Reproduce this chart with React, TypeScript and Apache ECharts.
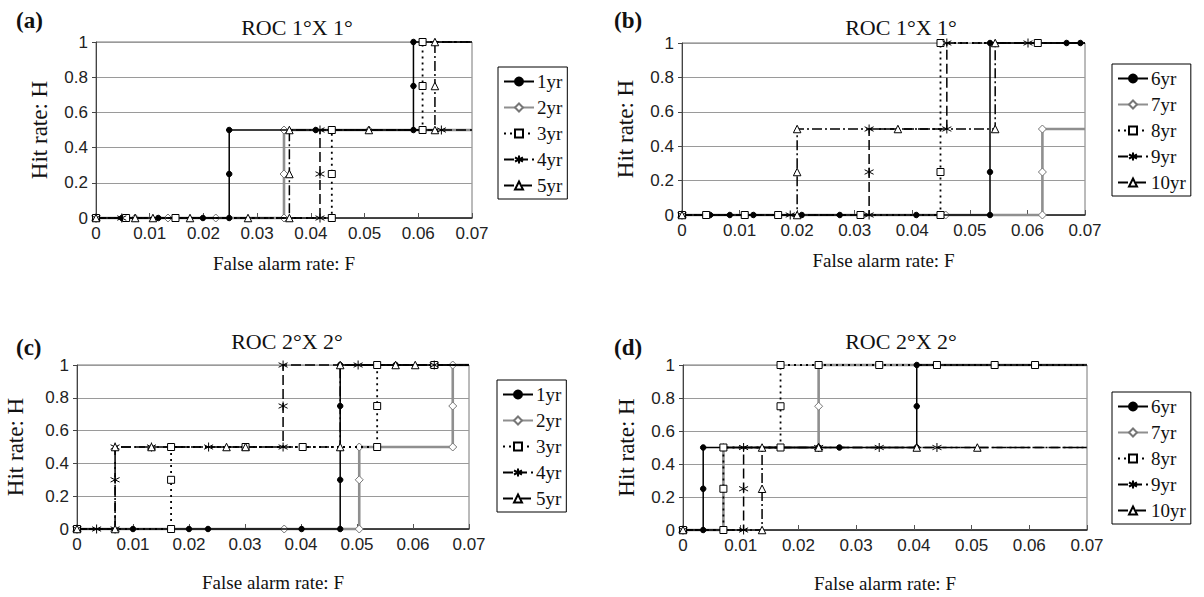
import React, { useEffect, useRef } from "react";
import * as echarts from "echarts";

// ---------- data (False alarm rate F, Hit rate H) ----------
const panelTitles = ["ROC 1°X 1°", "ROC 1°X 1°", "ROC 2°X 2°", "ROC 2°X 2°"];
const panelLetters = ["(a)", "(b)", "(c)", "(d)"];
const namesAC = ["1yr", "2yr", "3yr", "4yr", "5yr"];
const namesBD = ["6yr", "7yr", "8yr", "9yr", "10yr"];
const yTicks = [0, 0.2, 0.4, 0.6, 0.8, 1];
const xTicks = [0, 0.01, 0.02, 0.03, 0.04, 0.05, 0.06, 0.07];

// panel (a)
const a1yr = [[0, 0], [0.0048, 0], [0.0056, 0], [0.0116, 0], [0.0199, 0], [0.0248, 0], [0.0248, 0.25], [0.0248, 0.5], [0.0409, 0.5], [0.0591, 0.5], [0.0591, 0.75], [0.0591, 1], [0.07, 1]];
const a2yr = [[0, 0], [0.0073, 0], [0.0134, 0], [0.0223, 0], [0.035, 0], [0.035, 0.25], [0.035, 0.5], [0.0508, 0.5], [0.07, 0.5]];
const a3yr = [[0, 0], [0.0056, 0], [0.0148, 0], [0.0439, 0], [0.0439, 0.25], [0.0439, 0.5], [0.0608, 0.5], [0.0608, 0.75], [0.0608, 1], [0.07, 1]];
const a4yr = [[0, 0], [0.0048, 0], [0.0417, 0], [0.0417, 0.25], [0.0417, 0.5], [0.0643, 0.5], [0.07, 0.5]];
const a5yr = [[0, 0], [0.0073, 0], [0.0106, 0], [0.0175, 0], [0.0283, 0], [0.036, 0], [0.036, 0.25], [0.036, 0.5], [0.0508, 0.5], [0.0631, 0.5], [0.0631, 0.75], [0.0631, 1], [0.07, 1]];

// panel (b)
const b6yr = [[0, 0], [0.0049, 0], [0.0083, 0], [0.0124, 0], [0.0208, 0], [0.0274, 0], [0.0407, 0], [0.0535, 0], [0.0535, 0.25], [0.0535, 1], [0.0668, 1], [0.0692, 1], [0.07, 1]];
const b7yr = [[0, 0], [0.0458, 0], [0.0626, 0], [0.0626, 0.25], [0.0626, 0.5], [0.07, 0.5]];
const b8yr = [[0, 0], [0.0042, 0], [0.0109, 0], [0.0167, 0], [0.031, 0], [0.0449, 0], [0.0449, 0.25], [0.0449, 1], [0.0618, 1], [0.07, 1]];
const b9yr = [[0, 0], [0.0188, 0], [0.0325, 0], [0.0325, 0.25], [0.0325, 0.5], [0.046, 0.5], [0.046, 1], [0.0601, 1], [0.07, 1]];
const b10yr = [[0, 0], [0.02, 0], [0.02, 0.25], [0.02, 0.5], [0.0375, 0.5], [0.0544, 0.5], [0.0544, 1], [0.07, 1]];

// panel (c)
const c1yr = [[0, 0], [0.01, 0], [0.02, 0], [0.0234, 0], [0.0401, 0], [0.047, 0], [0.047, 0.3], [0.047, 0.75], [0.047, 1], [0.0569, 1], [0.07, 1]];
const c2yr = [[0, 0], [0.037, 0], [0.0504, 0], [0.0504, 0.3], [0.0504, 0.5], [0.0671, 0.5], [0.0671, 0.75], [0.0671, 1], [0.07, 1]];
const c3yr = [[0, 0], [0.0168, 0], [0.0168, 0.3], [0.0168, 0.5], [0.0301, 0.5], [0.0403, 0.5], [0.0536, 0.5], [0.0536, 0.75], [0.0536, 1], [0.0638, 1], [0.07, 1]];
const c4yr = [[0, 0], [0.0035, 0], [0.0068, 0], [0.0068, 0.3], [0.0068, 0.5], [0.0133, 0.5], [0.0235, 0.5], [0.0368, 0.5], [0.0368, 0.75], [0.0368, 1], [0.0502, 1], [0.0638, 1], [0.07, 1]];
const c5yr = [[0, 0], [0.0068, 0], [0.0068, 0.5], [0.0133, 0.5], [0.0267, 0.5], [0.0301, 0.5], [0.047, 0.5], [0.047, 1], [0.0569, 1], [0.0604, 1], [0.07, 1]];

// panel (d)
const d6yr = [[0, 0], [0.0035, 0], [0.0035, 0.25], [0.0035, 0.5], [0.0235, 0.5], [0.0271, 0.5], [0.0405, 0.5], [0.0405, 0.75], [0.0405, 1], [0.07, 1]];
const d7yr = [[0, 0], [0.007, 0], [0.007, 0.5], [0.0235, 0.5], [0.0235, 0.75], [0.0235, 1], [0.034, 1], [0.044, 1], [0.054, 1], [0.061, 1], [0.07, 1]];
const d8yr = [[0, 0], [0.007, 0], [0.007, 0.25], [0.007, 0.5], [0.0169, 0.5], [0.0169, 0.75], [0.0169, 1], [0.0235, 1], [0.034, 1], [0.044, 1], [0.054, 1], [0.061, 1], [0.07, 1]];
const d9yr = [[0, 0], [0.0105, 0], [0.0105, 0.25], [0.0105, 0.5], [0.0235, 0.5], [0.034, 0.5], [0.044, 0.5], [0.07, 0.5]];
const d10yr = [[0, 0], [0.0137, 0], [0.0137, 0.25], [0.0137, 0.5], [0.0235, 0.5], [0.0405, 0.5], [0.051, 0.5], [0.07, 0.5]];

const panelSeries = [
  [a1yr, a2yr, a3yr, a4yr, a5yr],
  [b6yr, b7yr, b8yr, b9yr, b10yr],
  [c1yr, c2yr, c3yr, c4yr, c5yr],
  [d6yr, d7yr, d8yr, d9yr, d10yr],
];

// ---------- styles ----------
const STAR = "path://M0,-5L0,5M-4.33,-2.5L4.33,2.5M-4.33,2.5L4.33,-2.5";
const seriesStyles = [
  { color: "#000", width: 1.5, type: "solid", symbol: "circle", size: 5.5, fill: "#000", border: "#000" },
  { color: "#8f8f8f", width: 2.6, type: "solid", symbol: "diamond", size: 8, fill: "#fff", border: "#777" },
  { color: "#000", width: 1.8, type: [2, 4], symbol: "rect", size: 7, fill: "#fff", border: "#000" },
  { color: "#000", width: 1.5, type: [10, 4], symbol: STAR, size: 9, fill: "#000", border: "#000" },
  { color: "#000", width: 1.5, type: [10, 3, 2, 3], symbol: "triangle", size: 7.5, fill: "#fff", border: "#000" },
];

const grids = [
  { left: 96, top: 42, width: 376, height: 176 },
  { left: 682, top: 43, width: 403, height: 172 },
  { left: 77, top: 365, width: 392, height: 164 },
  { left: 683, top: 365, width: 404, height: 165 },
];
const yNameGaps = [45, 45, 50, 45];
const xNameGaps = [36, 36, 44, 44];
const legendPos = [
  { left: 498, top: 67 },
  { left: 1112, top: 64 },
  { left: 497, top: 380 },
  { left: 1112, top: 392 },
];
const titlePos = [
  { x: 297, y: 27 },
  { x: 901, y: 27 },
  { x: 287, y: 341 },
  { x: 901, y: 341 },
];
const letterPos = [
  { x: 16, y: 20 },
  { x: 614, y: 20 },
  { x: 16, y: 347 },
  { x: 614, y: 347 },
];

const SERIF = "'Liberation Serif', 'DejaVu Serif', serif";
const SANS = "'Liberation Sans', Arial, sans-serif";

function buildOption() {
  const xAxis: any[] = [];
  const yAxis: any[] = [];
  const series: any[] = [];
  const legend: any[] = [];
  const graphic: any[] = [];

  grids.forEach((g, i) => {
    xAxis.push({
      type: "value",
      gridIndex: i,
      min: xTicks[0],
      max: xTicks[xTicks.length - 1],
      interval: 0.01,
      name: "False alarm rate: F",
      nameLocation: "middle",
      nameGap: xNameGaps[i],
      nameTextStyle: { fontFamily: SERIF, fontSize: 19, color: "#111" },
      axisLine: { show: true, lineStyle: { color: "#222", width: 1.5 } },
      axisTick: { show: true, inside: true, length: 5, lineStyle: { color: "#555" } },
      axisLabel: {
        fontFamily: SANS,
        fontSize: 17,
        color: "#222",
        margin: 7,
        formatter: (v: number) => String(+v.toFixed(2)),
      },
      splitLine: { show: false },
    });
    yAxis.push({
      type: "value",
      gridIndex: i,
      min: yTicks[0],
      max: yTicks[yTicks.length - 1],
      interval: 0.2,
      name: "Hit rate: H",
      nameLocation: "middle",
      nameGap: yNameGaps[i],
      nameTextStyle: { fontFamily: SERIF, fontSize: 23, color: "#111" },
      axisLine: { show: true, lineStyle: { color: "#444", width: 1 } },
      axisTick: { show: true, length: 4, lineStyle: { color: "#444" } },
      axisLabel: {
        fontFamily: SANS,
        fontSize: 17,
        color: "#222",
        margin: 8,
        formatter: (v: number) => String(+v.toFixed(1)),
      },
      splitLine: { show: true, lineStyle: { color: "#9a9a9a", width: 1 } },
    });

    const names = i % 2 === 0 ? namesAC : namesBD;
    const data = panelSeries[i];
    const order = [1, 0, 2, 3, 4];
    order.forEach((k) => {
      const st = seriesStyles[k];
      const pts = data[k];
      series.push({
        type: "line",
        name: names[k],
        xAxisIndex: i,
        yAxisIndex: i,
        data: pts.map((p, j) =>
          j === pts.length - 1 ? { value: p, symbol: "none" } : { value: p }
        ),
        symbol: st.symbol,
        symbolSize: st.size,
        showSymbol: true,
        showAllSymbol: true,
        clip: false,
        lineStyle: { color: st.color, width: st.width, type: st.type },
        itemStyle: { color: st.fill, borderColor: st.border, borderWidth: 1 },
        emphasis: { disabled: true },
        z: k === 1 ? 2 : 3,
      });
    });

    legend.push({
      data: names,
      orient: "vertical",
      left: legendPos[i].left,
      top: legendPos[i].top,
      itemWidth: 30,
      itemHeight: 10,
      itemGap: 7,
      padding: [5, 5, 4, 5],
      borderColor: "#000",
      borderWidth: 1,
      selectedMode: false,
      textStyle: { fontFamily: SERIF, fontSize: 19, color: "#111", padding: [0, 0, 0, -2] },
    });

    graphic.push({
      type: "text",
      x: titlePos[i].x,
      y: titlePos[i].y,
      style: {
        text: panelTitles[i],
        font: `22px ${SERIF}`,
        fill: "#111",
        textAlign: "center",
        textVerticalAlign: "middle",
      },
    });
    graphic.push({
      type: "text",
      x: letterPos[i].x,
      y: letterPos[i].y,
      style: {
        text: panelLetters[i],
        font: `bold 23px ${SERIF}`,
        fill: "#111",
        textAlign: "left",
        textVerticalAlign: "middle",
      },
    });
  });

  return {
    animation: false,
    backgroundColor: "#fff",
    grid: grids.map((g) => ({ ...g, show: true, borderColor: "#777", borderWidth: 1, backgroundColor: "transparent" })),
    xAxis,
    yAxis,
    legend,
    series,
    graphic,
  };
}

export default function App() {
  const ref = useRef<HTMLDivElement>(null);
  useEffect(() => {
    document.body.style.margin = "0";
    if (!ref.current) return;
    const chart = echarts.init(ref.current, undefined, { renderer: "svg" });
    chart.setOption(buildOption() as any);
    return () => chart.dispose();
  }, []);
  return <div ref={ref} style={{ width: 1204, height: 597 }} />;
}
